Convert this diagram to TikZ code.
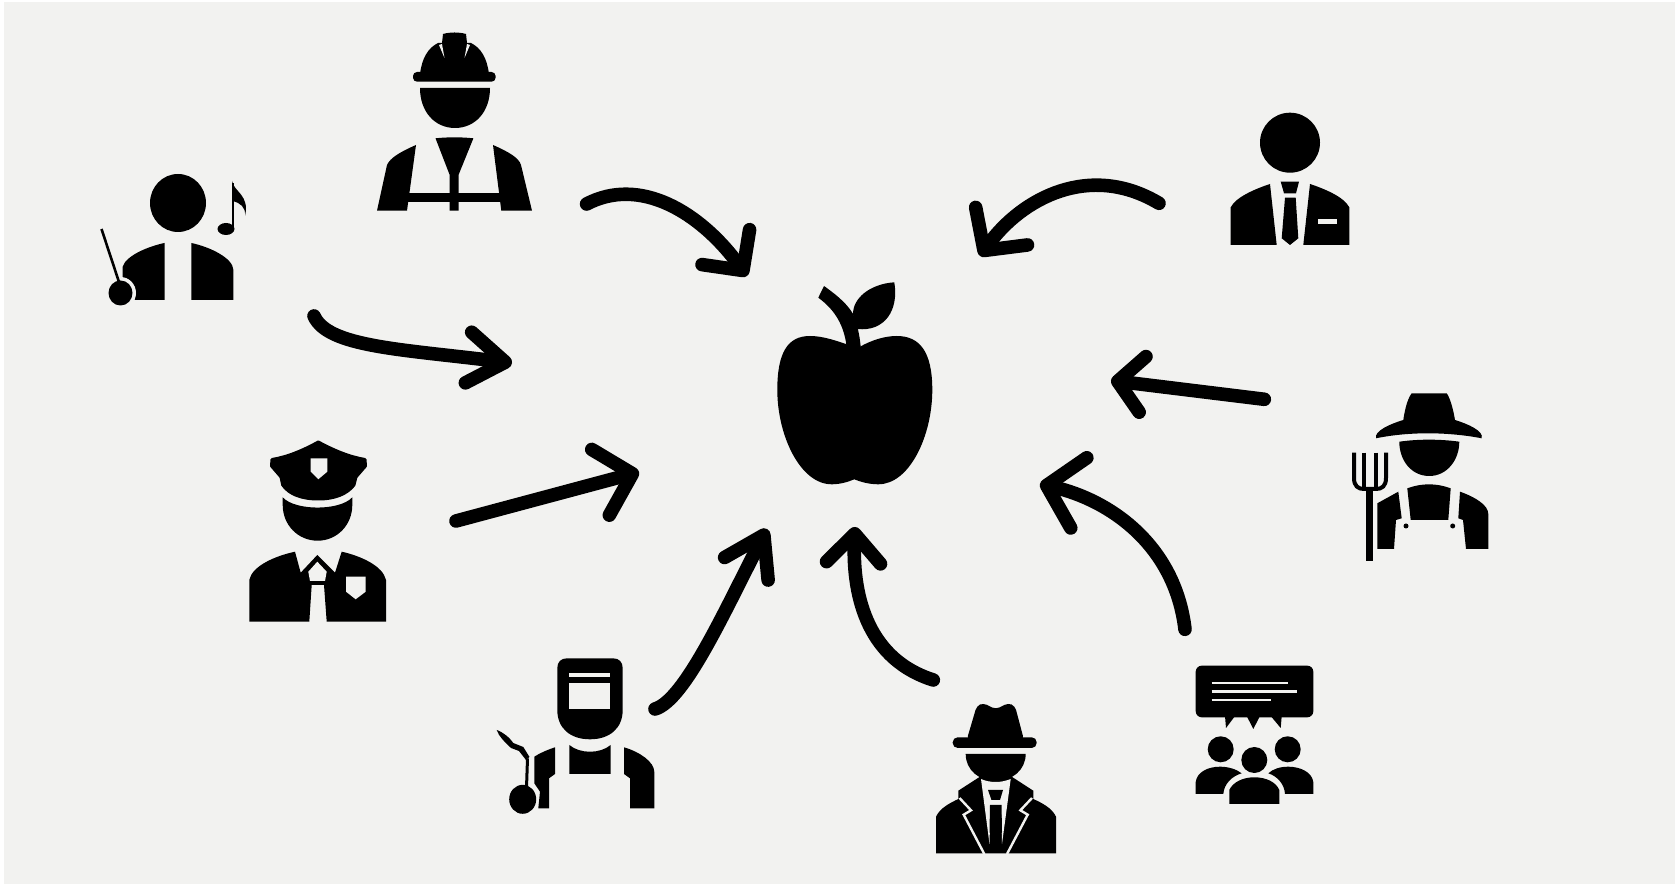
\documentclass[tikz,border=0pt]{standalone}
\usetikzlibrary{arrows.meta}
\pgfdeclarelayer{edgelayer}
\pgfdeclarelayer{nodelayer}
\pgfsetlayers{main,edgelayer,nodelayer}
\definecolor{paper}{HTML}{F2F2F0}
\tikzstyle{ink}=[fill=black,draw=none]
\tikzstyle{gap}=[fill=paper,draw=none]
\tikzstyle{gapline}=[draw=paper,line width=1.2pt]
\tikzstyle{wire}=[draw=black,line width=2pt]
\tikzstyle{flow}=[draw=black,line width=6.8pt,line cap=round]
\tikzset{head/.style 2 args={-{Straight Barb[length=#1,width=#2,round]}}}
\begin{document}
\begin{tikzpicture}[x=0.5pt,y=-0.5pt]
	\useasboundingbox (0,0) rectangle (1678,886);
	\fill[paper] (4,2) rectangle (1675,884);
	\coordinate (conductorEnd) at (314,316);
	\coordinate (conductorTip) at (512,363);
	\coordinate (builderEnd) at (586.6,204);
	\coordinate (builderTip) at (747,276);
	\coordinate (policeEnd) at (456,521);
	\coordinate (policeTip) at (639,472);
	\coordinate (welderEnd) at (655,709);
	\coordinate (welderTip) at (767,529);
	\coordinate (detectiveEnd) at (933.3,680);
	\coordinate (detectiveTip) at (855,527);
	\coordinate (crowdEnd) at (1185,629.3);
	\coordinate (crowdTip) at (1040,484);
	\coordinate (farmerEnd) at (1264.3,399.3);
	\coordinate (farmerTip) at (1111,380.5);
	\coordinate (suitEnd) at (1159,203.3);
	\coordinate (suitTip) at (980,256);
	\begin{pgfonlayer}{edgelayer}
		\draw[flow,head={18.5pt}{25.5pt}] (conductorEnd) .. controls (328,347) and (400,349) .. (conductorTip);
		\draw[flow,head={14.5pt}{29.5pt}] (builderEnd) .. controls (640,176) and (700,212) .. (builderTip);
		\draw[flow,head={16.5pt}{34pt}] (policeEnd) -- (policeTip);
		\draw[flow,head={19pt}{24.5pt}] (welderEnd) .. controls (685,700) and (725,610) .. (welderTip);
		\draw[flow,head={14.5pt}{27pt}] (detectiveEnd) .. controls (870,660) and (852,600) .. (detectiveTip);
		\draw[flow,head={16.5pt}{36pt}] (crowdEnd) .. controls (1175,545) and (1110,500) .. (crowdTip);
		\draw[flow,head={12.5pt}{28pt}] (farmerEnd) -- (farmerTip);
		\draw[flow,head={15pt}{32pt}] (suitEnd) .. controls (1090,162) and (1022,198) .. (suitTip);
	\end{pgfonlayer}
	\begin{pgfonlayer}{nodelayer}
		% apple
		\fill[ink] (853.3,346.7) .. controls (835,340) and (822,336) .. (810,336) .. controls (788,336) and (777.3,352) .. (777.3,390) .. controls (777.3,435) and (800,484.3) .. (831.7,484.3) .. controls (840,484.3) and (848,482) .. (854.3,479.3) .. controls (861,482) and (869,484.3) .. (878.3,484.3) .. controls (910,484.3) and (932.3,435) .. (932.3,390) .. controls (932.3,352) and (920,336) .. (896.7,336) .. controls (885,336) and (872,340) .. (860,346.7) -- cycle;
		\fill[ink] (824,286) .. controls (838,296) and (850,306) .. (855,318) .. controls (858,328) and (860,338) .. (860.7,347) -- (846.7,347) .. controls (844,325) and (835,310) .. (818.3,297.7) -- cycle;
		\fill[ink] (894.3,282.3) .. controls (870,284) and (853,298) .. (853,314) -- (857,329) .. controls (885,332) and (899,310) .. (894.3,282.3) -- cycle;
		% conductor
		\fill[ink] (178,203) ellipse [x radius=28,y radius=29];
		\fill[ink] (164.5,243) -- (164.5,300) -- (130,300) -- (122.5,278) -- (122.5,267) .. controls (126,255) and (150,246) .. (164.5,243) -- cycle;
		\fill[ink] (191.4,243) .. controls (210,247) and (233,258) .. (233.4,270) -- (233.4,300) -- (191.4,300) -- cycle;
		\fill[gap] (120.5,293) ellipse [x radius=15.5,y radius=16];
		\draw[wire,line width=1.3pt] (101.5,229) -- (119,282);
		\fill[ink] (120.5,293) ellipse [x radius=12,y radius=12.5];
		\draw[wire,line width=1.4pt] (233,183) -- (233,229);
		\fill[ink] (226,229) ellipse [x radius=8.5,y radius=6];
		\fill[ink] (232,181) .. controls (234,192) and (250,195) .. (245,216) .. controls (246,207) and (240,203) .. (233,201) -- cycle;
		% builder
		\fill[ink,rounded corners=2pt] (413,72) rectangle (495.6,81.7);
		\fill[ink] (420,74) .. controls (422,58) and (428,48) .. (438,43) -- (442,43) -- (443,34) .. controls (450,32) and (459,32) .. (466,34) -- (467,43) -- (471,43) .. controls (481,48) and (487,58) .. (489,74) -- cycle;
		\fill[gap] (439,45) -- (442,44) -- (444.5,58) -- cycle;
		\fill[gap] (470,45) -- (467,44) -- (464.5,58) -- cycle;
		\fill[ink] (420,88) -- (490,88) .. controls (490,112) and (475,128) .. (455,128) .. controls (435,128) and (420,112) .. (420,88) -- cycle;
		\fill[ink] (435.5,138.3) .. controls (448,137) and (461,137) .. (473.4,138.3) -- (458.5,175) -- (458.5,210.7) -- (449.7,210.7) -- (449.7,175) -- cycle;
		\fill[ink] (405,192.7) rectangle (503,201.7);
		\fill[ink] (416,145) .. controls (400,152) and (390,158) .. (387,165) -- (377,210.7) -- (407,210.7) -- cycle;
		\fill[ink] (493,145) .. controls (509,152) and (519,158) .. (521,165) -- (532,210.7) -- (501.3,210.7) -- cycle;
		% police
		\filldraw[fill=black,draw=black,line width=1.5pt,line join=round] (318.3,442) .. controls (335,451) and (350,457) .. (365,459.5) -- (365.5,466) -- (356,477) -- (354,485) .. controls (347,494) and (335,499) .. (318.3,499) .. controls (301,499) and (289,494) .. (282.7,485) -- (281,477) -- (271.5,466) -- (272,459.5) .. controls (287,457) and (302,451) .. (318.3,442) -- cycle;
		\fill[gap] (310.7,458.3) -- (327.3,458.3) -- (327.3,471.7) -- (318.3,479.3) -- (310.7,471.7) -- cycle;
		\fill[ink] (282.7,497.3) .. controls (295,511) and (340,511) .. (352.3,497.3) -- (352.3,505) .. controls (352.3,525) and (337,540.7) .. (317.7,540.7) .. controls (298,540.7) and (282.7,525) .. (282.7,505) -- cycle;
		\fill[ink] (249.3,621.7) -- (249.3,580) .. controls (252,566) and (275,556) .. (295,551.7) -- (300.7,572.7) -- (317.3,555) -- (335,572.7) -- (341.7,551.7) .. controls (361,556) and (383,566) .. (386,580) -- (386,621.7) -- (326.7,621.7) -- (324,585) -- (311.7,585) -- (309.3,621.7) -- cycle;
		\fill[gap] (317.3,561.7) -- (326.7,571.7) -- (325,581) -- (310,581) -- (308.3,571.7) -- cycle;
		\fill[gap] (346,576.7) -- (365.7,576.7) -- (365.7,591.7) -- (355.7,599.3) -- (346,591.7) -- cycle;
		% welder
		\fill[ink] (567,658.3) -- (613,658.3) .. controls (619,658.3) and (622.7,662) .. (622.7,668) -- (622.7,710) .. controls (622.7,728) and (610,739.3) .. (590,739.3) .. controls (570,739.3) and (557.3,728) .. (557.3,710) -- (557.3,668) .. controls (557.3,662) and (561,658.3) .. (567,658.3) -- cycle;
		\fill[gap] (569.3,683.3) rectangle (610,709.3);
		\fill[gap] (569.3,672.7) rectangle (610,677.3);
		\fill[ink] (569.3,745) .. controls (580,754) and (600,754) .. (610.7,745) -- (610.7,774) -- (569.3,774) -- cycle;
		\fill[ink] (555,747.3) .. controls (547,750) and (540,753) .. (534.3,756.7) -- (534.3,783.3) -- (540,791.7) -- (538.3,808.3) -- (549,808.3) -- (549,778.3) -- (555,774) -- cycle;
		\fill[ink] (624,747.3) .. controls (640,752) and (654.3,762) .. (654.3,772) -- (654.3,808.3) -- (630,808.3) -- (630,778.3) -- (624,774) -- cycle;
		\draw[wire,line width=1.5pt] (527.5,758.3) -- (526.5,788);
		\fill[ink] (496.7,730) .. controls (503,732) and (510,738) .. (513.3,743) -- (523.3,747) -- (529.5,757) -- (526,760) -- (519,751) -- (511,748) .. controls (505,742) and (499,737) .. (496.7,730) -- cycle;
		\fill[ink] (522.7,799.3) ellipse [x radius=13.5,y radius=14.5];
		% detective
		\fill[ink,rounded corners=2.5pt] (952.7,737.3) rectangle (1036.7,748);
		\fill[ink,rounded corners=2pt] (966.7,740) -- (976.7,706) -- (983.3,703) -- (995.7,709.3) -- (1008.3,703) -- (1015,706) -- (1024,740) -- cycle;
		\fill[ink] (965.7,754) -- (1025.7,754) .. controls (1025.7,770) and (1012,781) .. (995.7,781) .. controls (979,781) and (965.7,770) .. (965.7,754) -- cycle;
		\fill[ink] (936,853.3) -- (936,816.7) .. controls (940,808) and (950,803) .. (958.3,799) -- (958.3,790.7) -- (980,776.7) -- (995.7,780) -- (1011.7,776.7) -- (1033.3,790.7) -- (1033.3,799) .. controls (1042,803) and (1052,808) .. (1056,816.7) -- (1056,853.3) -- cycle;
		\fill[gap] (981,779) .. controls (990,783) and (1001,783) .. (1010.7,779) -- (1002,844) -- (1001,805) -- (990.5,805) -- (989.5,844) -- cycle;
		\fill[ink] (988,790) -- (1003,790) -- (1000,800) -- (991.5,800) -- cycle;
		\fill[ink] (990,805) -- (1001.5,805) -- (1002,832) -- (995.7,846) -- (989.5,832) -- cycle;
		\draw[gapline] (959.5,798) -- (971,810.3) -- (963.7,814.7) -- (984.3,854);
		\draw[gapline] (1032,798) -- (1020.4,810.3) -- (1027.7,814.7) -- (1007,854);
		% crowd
		\fill[ink,rounded corners=3pt] (1195.7,665.7) rectangle (1313.3,717.3);
		\fill[ink] (1225,716) -- (1235,716) -- (1226,728) -- cycle;
		\fill[ink] (1246.7,716) -- (1260,716) -- (1253.3,729) -- cycle;
		\fill[ink] (1270.7,716) -- (1281.7,716) -- (1280.7,728) -- cycle;
		\draw[gapline] (1211.7,683.3) -- (1287.7,683.3);
		\draw[gapline] (1211.7,691.7) -- (1296.7,691.7);
		\draw[gapline] (1211.7,700.3) -- (1271,700.3);
		\fill[ink] (1220.7,749.3) circle [radius=13];
		\fill[ink] (1287.7,749.3) circle [radius=13];
		\fill[ink] (1254.3,760) circle [radius=13];
		\fill[ink] (1195.7,794) -- (1195.7,782) .. controls (1197,772) and (1208,766.7) .. (1220,766.7) .. controls (1228,766.7) and (1236,769) .. (1241.7,773.3) .. controls (1232,776) and (1224,784) .. (1223.3,794) -- cycle;
		\fill[ink] (1313.3,794) -- (1313.3,782) .. controls (1312,772) and (1300,766.7) .. (1288.3,766.7) .. controls (1280,766.7) and (1273,769) .. (1268.3,773.3) .. controls (1277,776) and (1284.5,784) .. (1285,794) -- cycle;
		\fill[ink] (1229.3,804) -- (1229.3,790) .. controls (1233,782) and (1243,777.3) .. (1254.3,777.3) .. controls (1266,777.3) and (1276,782) .. (1279.3,790) -- (1279.3,804) -- cycle;
		% farmer
		\fill[ink] (1403.3,420) .. controls (1405,408) and (1408,398) .. (1411.7,393.3) -- (1446.7,393.3) .. controls (1450,398) and (1453,408) .. (1455,420) .. controls (1468,424) and (1484,431) .. (1481.7,438.3) .. controls (1465,435) and (1445,433.3) .. (1428.3,433.3) .. controls (1410,433.3) and (1392,435) .. (1376,438.3) .. controls (1374,431) and (1390,424) .. (1403.3,420) -- cycle;
		\fill[ink] (1399.3,441.7) .. controls (1418,439) and (1440,439) .. (1459.3,441.7) .. controls (1459.3,460) and (1447,476) .. (1429.3,476) .. controls (1411,476) and (1399.3,460) .. (1399.3,441.7) -- cycle;
		\fill[ink] (1407.3,488.3) .. controls (1422,483) and (1436,483) .. (1450.7,488.3) -- (1448.3,520) -- (1410.7,520) -- cycle;
		\fill[ink] (1398.3,491.7) -- (1377.3,503.3) -- (1377.3,549) -- (1394,549) -- (1396,520) -- (1401.7,518.3) -- cycle;
		\fill[ink] (1460,491.7) .. controls (1475,497) and (1488.3,505) .. (1488.3,514) -- (1488.3,549) -- (1466,549) -- (1463,520) -- (1458.3,518.3) -- cycle;
		\fill[ink] (1406,526) circle [radius=2.5];
		\fill[ink] (1452.7,526) circle [radius=2.5];
		\draw[wire] (1354,452.7) -- (1354,478) .. controls (1354,486) and (1358,489) .. (1364,489) -- (1376,489) .. controls (1382,489) and (1386,486) .. (1386,478) -- (1386,452.7);
		\draw[wire] (1364,452.7) -- (1364,489);
		\draw[wire] (1376,452.7) -- (1376,489);
		\fill[ink] (1366,489) rectangle (1373.3,560.7);
		% suit
		\fill[ink] (1290,142.7) circle [radius=30];
		\fill[ink] (1230.7,245) -- (1230.7,207.3) .. controls (1236,197) and (1255,189) .. (1270,184) -- (1276.7,245) -- cycle;
		\fill[ink] (1310,184) .. controls (1325,189) and (1344,197) .. (1349.3,207.3) -- (1349.3,245) -- (1303.3,245) -- cycle;
		\fill[ink] (1280.7,181.7) -- (1299,181.7) -- (1296,193.3) -- (1284,193.3) -- cycle;
		\fill[ink] (1285,197.7) -- (1295.7,197.7) -- (1298.3,238.3) -- (1290,245) -- (1281.7,238.3) -- cycle;
		\fill[gap] (1317.7,219) rectangle (1337.3,224);
	\end{pgfonlayer}
\end{tikzpicture}
\end{document}
